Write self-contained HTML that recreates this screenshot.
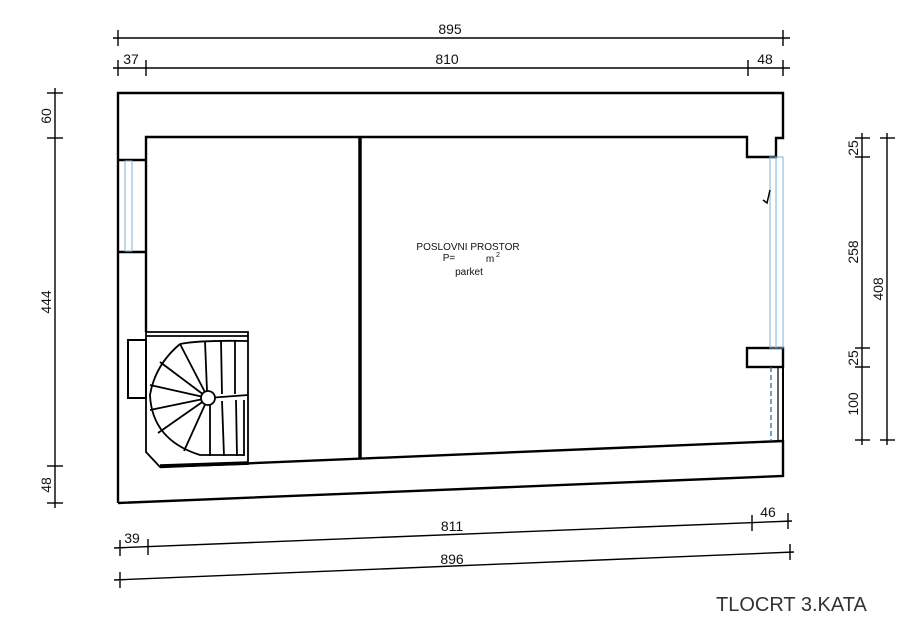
<!DOCTYPE html>
<html><head><meta charset="utf-8"><style>
html,body{margin:0;padding:0;background:#fff;width:919px;height:638px;overflow:hidden}
text{font-family:"Liberation Sans",sans-serif;fill:#111}
</style></head><body>
<svg width="919" height="638" viewBox="0 0 919 638" xmlns="http://www.w3.org/2000/svg">
<g stroke="#000" fill="none" stroke-width="2.4">
<!-- outer walls -->
<path d="M118 503 L118 93 L783 93 L783 138 L776 138 L776 157 L747 157 L747 137 L146 137 L146 332"/>
<path d="M118 503 L783 476 L783 440"/>
<path d="M160 467 L783 441"/>
<line x1="118" y1="160" x2="146" y2="160"/>
<line x1="118" y1="252" x2="146" y2="252"/>
<!-- partition -->
<line x1="360" y1="137" x2="360" y2="458" stroke-width="3.5"/>
<!-- right pier -->
<rect x="747" y="348" width="36" height="19"/>
<line x1="783" y1="367" x2="783" y2="441" stroke-width="2"/>
<line x1="778" y1="367" x2="778" y2="441" stroke-width="1.2"/>
</g>
<!-- windows -->
<g stroke="#7fb3d8" fill="none" stroke-width="1">
<rect x="125" y="161" width="7" height="90"/>
<rect x="770" y="157" width="13" height="191"/>
<line x1="776" y1="157" x2="776" y2="348"/>
<line x1="771" y1="367" x2="771" y2="441" stroke="#2a6aa8" stroke-dasharray="5,3" stroke-width="1.3"/>
</g>
<path d="M770 190 L767 203 L763 200" stroke="#000" stroke-width="1.5" fill="none"/>
<!-- stairs -->
<g stroke="#000" fill="none" stroke-width="1.8">
<rect x="128" y="340" width="18" height="58" stroke-width="2"/>
<path d="M146 332 L146 452 L160 467 L248 464 L248 332 Z"/>
<line x1="146" y1="336" x2="248" y2="336"/>
<path d="M180 344 Q200 340 248 341"/>
<line x1="208" y1="398" x2="248" y2="395"/>
<line x1="208" y1="398" x2="180" y2="344"/>
<line x1="208" y1="398" x2="160" y2="362"/>
<line x1="208" y1="398" x2="150" y2="385"/>
<line x1="208" y1="398" x2="150" y2="410"/>
<line x1="208" y1="398" x2="158" y2="433"/>
<line x1="208" y1="398" x2="184" y2="451"/>
<path d="M180 344 Q155 365 150 395 Q152 440 200 455 L244 455"/>
<line x1="205" y1="341" x2="207" y2="391"/>
<line x1="221" y1="341" x2="222" y2="394"/>
<line x1="235" y1="341" x2="235" y2="394"/>
<line x1="210" y1="405" x2="210" y2="456"/>
<line x1="222" y1="401" x2="224" y2="456"/>
<line x1="236" y1="400" x2="237" y2="456"/>
<line x1="244" y1="400" x2="244" y2="456"/>
<circle cx="208" cy="398" r="7" fill="#fff"/>
<line x1="160" y1="466" x2="248" y2="463" stroke-width="3.5"/>
</g>
<!-- dimensions -->
<g stroke="#000" stroke-width="1.4">
<line x1="113" y1="38" x2="790" y2="38"/>
<line x1="118" y1="30" x2="118" y2="46"/><line x1="783" y1="30" x2="783" y2="46"/>
<line x1="113" y1="68" x2="790" y2="68"/>
<line x1="118" y1="60" x2="118" y2="76"/><line x1="146" y1="60" x2="146" y2="76"/>
<line x1="748" y1="60" x2="748" y2="76"/><line x1="783" y1="60" x2="783" y2="76"/>
<line x1="55" y1="88" x2="55" y2="508"/>
<line x1="47" y1="93" x2="63" y2="93"/><line x1="47" y1="138" x2="63" y2="138"/>
<line x1="47" y1="466" x2="63" y2="466"/><line x1="47" y1="503" x2="63" y2="503"/>
<line x1="862" y1="133" x2="862" y2="445"/>
<line x1="855" y1="138" x2="870" y2="138"/><line x1="855" y1="157" x2="870" y2="157"/>
<line x1="855" y1="348" x2="870" y2="348"/><line x1="855" y1="367" x2="870" y2="367"/>
<line x1="855" y1="440" x2="870" y2="440"/>
<line x1="887" y1="133" x2="887" y2="445"/>
<line x1="880" y1="138" x2="895" y2="138"/><line x1="880" y1="440" x2="895" y2="440"/>
<line x1="114" y1="548" x2="792" y2="521"/>
<line x1="120" y1="540" x2="120" y2="556"/><line x1="148" y1="539" x2="148" y2="555"/>
<line x1="752" y1="515" x2="752" y2="531"/><line x1="788" y1="513" x2="788" y2="529"/>
<line x1="114" y1="580" x2="794" y2="552"/>
<line x1="120" y1="572" x2="120" y2="588"/><line x1="790" y1="544" x2="790" y2="560"/>
</g>
<g font-size="14">
<text x="450" y="34" text-anchor="middle">895</text>
<text x="131" y="64" text-anchor="middle">37</text>
<text x="447" y="64" text-anchor="middle">810</text>
<text x="765" y="64" text-anchor="middle">48</text>
<text transform="translate(51,116) rotate(-90)" text-anchor="middle">60</text>
<text transform="translate(51,302) rotate(-90)" text-anchor="middle">444</text>
<text transform="translate(51,485) rotate(-90)" text-anchor="middle">48</text>
<text transform="translate(858,148) rotate(-90)" text-anchor="middle">25</text>
<text transform="translate(858,252) rotate(-90)" text-anchor="middle">258</text>
<text transform="translate(858,358) rotate(-90)" text-anchor="middle">25</text>
<text transform="translate(858,404) rotate(-90)" text-anchor="middle">100</text>
<text transform="translate(883,289) rotate(-90)" text-anchor="middle">408</text>
<text x="132" y="543" text-anchor="middle">39</text>
<text x="452" y="531" text-anchor="middle">811</text>
<text x="768" y="517" text-anchor="middle">46</text>
<text x="452" y="564" text-anchor="middle">896</text>
</g>
<g font-size="10" fill="#333" text-anchor="middle">
<text x="468" y="250">POSLOVNI PROSTOR</text>
<text x="449" y="261">P=</text>
<text x="490" y="262">m</text>
<text x="498" y="257" font-size="7">2</text>
<text x="469" y="275">parket</text>
</g>
<text x="716" y="611" font-size="20" style="fill:#333">TLOCRT 3.KATA</text>
</svg>
</body></html>
